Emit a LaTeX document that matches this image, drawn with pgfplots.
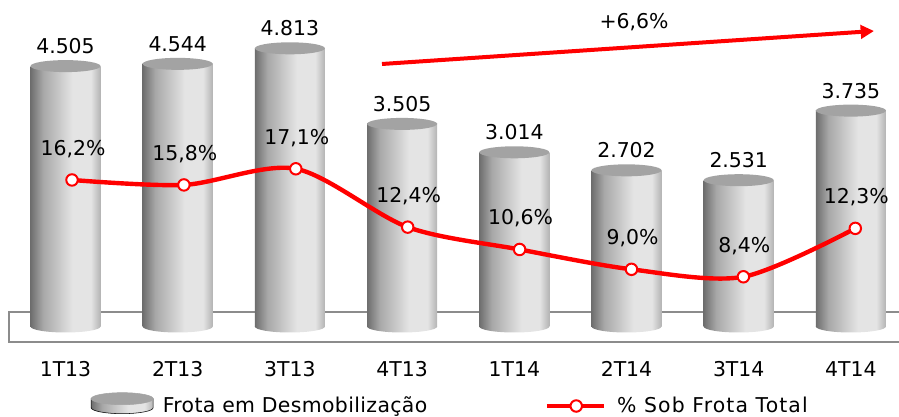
\documentclass[border=0pt]{standalone}
\usepackage{fontspec}
\setmainfont{DejaVu Sans}
\usepackage{pgfplots}
\pgfplotsset{compat=1.18}
\usetikzlibrary{arrows.meta}
\definecolor{cA}{HTML}{6E6E6E}
\definecolor{cB}{HTML}{A8A8A8}
\definecolor{cC}{HTML}{E4E4E4}
\definecolor{cD}{HTML}{B4B4B4}
\definecolor{captop}{HTML}{A3A3A3}
\pgfdeclarehorizontalshading{cyl}{100bp}{color(0bp)=(cA); color(25bp)=(cA); color(34bp)=(cB); color(55bp)=(cC); color(68bp)=(cC); color(75bp)=(cD); color(100bp)=(cD)}
\pgfdeclareplotmark{cyltop}{\pgfpathellipse{\pgfpointorigin}{\pgfqpoint{26.25pt}{0pt}}{\pgfqpoint{0pt}{4.5pt}}\pgfusepathqfill}
\pgfdeclareplotmark{cylbot}{\pgfpathellipse{\pgfpointorigin}{\pgfqpoint{26.25pt}{0pt}}{\pgfqpoint{0pt}{4.5pt}}\pgfshadepath{cyl}{0}\pgfusepath{discard}}
\newcommand{\chartfont}{\fontsize{15.3pt}{18pt}\selectfont}
\begin{document}
\begin{tikzpicture}
\path[use as bounding box] (0,0) rectangle (674.25pt,312.75pt);
\begin{scope}[x=0.75pt,y=-0.75pt,yshift=312.75pt]
\draw[color=black!45,line width=1.7pt] (899,312)--(9,312)--(9,342)--(899,342);
\end{scope}
\begin{axis}[
  at={(0,0)},anchor=south west,scale only axis,width=674.25pt,height=312.75pt,
  xmin=-0.5838,xmax=7.4287,ymin=-1565.7,ymax=5648.8,
  clip=false,axis line style={draw=none},tick style={draw=none},major tick length=0pt,
  xtick={0,1,2,3,4,5,6,7},ytick=\empty,
  xticklabels={1T13,2T13,3T13,4T13,1T14,2T14,3T14,4T14},
  xticklabel style={font=\chartfont,anchor=center,yshift=36pt},
  legend columns=2,
  legend style={at={(68.2pt,9pt)},anchor=west,draw=none,fill=none,font=\chartfont,inner sep=0pt,outer sep=0pt,
    /tikz/every even column/.append style={column sep=86pt}},
  cyl/.style={ybar,bar shift=0pt,bar width=52.5pt,draw=none,shading=cyl,forget plot},
]
\addplot[cyl] coordinates {(0,4505)};
\addplot[cyl] coordinates {(1,4544)};
\addplot[cyl] coordinates {(2,4813)};
\addplot[cyl] coordinates {(3,3505)};
\addplot[cyl] coordinates {(4,3014)};
\addplot[cyl] coordinates {(5,2702)};
\addplot[cyl] coordinates {(6,2531)};
\addplot[cyl] coordinates {(7,3735)};
\addplot[only marks,mark=cylbot,forget plot] coordinates {(0,0)(1,0)(2,0)(3,0)(4,0)(5,0)(6,0)(7,0)};
\addplot[only marks,mark=cyltop,color=captop,forget plot,
  point meta=explicit symbolic,nodes near coords,
  every node near coord/.append style={font=\chartfont,color=black,anchor=center,yshift=15pt}]
  table[x=x,y=y,meta=l]{
x y l
0 4505 4.505
1 4544 4.544
2 4813 4.813
3 3505 3.505
4 3014 3.014
5 2702 2.702
6 2531 2.531
7 3735 3.735
};
\addlegendimage{legend image code/.code={
  \begin{scope}[yshift=5.5pt]
  \path[shading=cyl] (0pt,-6.75pt) arc[start angle=180,end angle=360,x radius=23.25pt,y radius=4.5pt] -- (46.5pt,0pt) -- (0pt,0pt) -- cycle;
  \fill[captop] (23.25pt,0pt) ellipse[x radius=23.25pt,y radius=4.5pt];
  \end{scope}
}}
\addlegendentry{\hspace{5pt}\addfontfeatures{LetterSpace=1.8}Frota em Desmobilização}
\addlegendimage{legend image code/.code={
  \draw[red,line width=3.4pt] (0pt,0pt)--(43pt,0pt);
  \draw[red,line width=1.5pt,fill=white] (22pt,0pt) circle[radius=4.3pt];
}}
\addlegendentry{\hspace{6pt}\addfontfeatures{LetterSpace=5.5}\% Sob Frota Total}
\end{axis}
\begin{axis}[
  at={(0,0)},anchor=south west,scale only axis,width=674.25pt,height=312.75pt,
  xmin=-0.6434,xmax=7.3905,ymin=-2.897,ymax=30.70,
  clip=false,hide axis,
]
\addplot[red,line width=3.3pt,smooth,mark=*,mark size=4.3pt,
  mark options={draw=red,fill=white,line width=1.5pt},
  point meta=explicit symbolic,nodes near coords={\pgfplotspointmeta\%},
  every node near coord/.append style={font=\chartfont,color=black,anchor=center,xshift=0.75pt,yshift=23.25pt}]
  table[x=x,y=y,meta=l]{
x y l
0 16.2 16,2
1 15.8 15,8
2 17.1 17,1
3 12.4 12,4
4 10.6 10,6
5 9.0 9,0
6 8.4 8,4
7 12.3 12,3
};
\end{axis}
\begin{scope}[x=0.75pt,y=-0.75pt,yshift=312.75pt]
\draw[red,line width=3pt,-{Triangle[length=10pt,width=10pt]}] (382,64)--(874,31);
\node[font=\chartfont] at (634,22) {+6,6\%};
\end{scope}
\end{tikzpicture}
\end{document}
